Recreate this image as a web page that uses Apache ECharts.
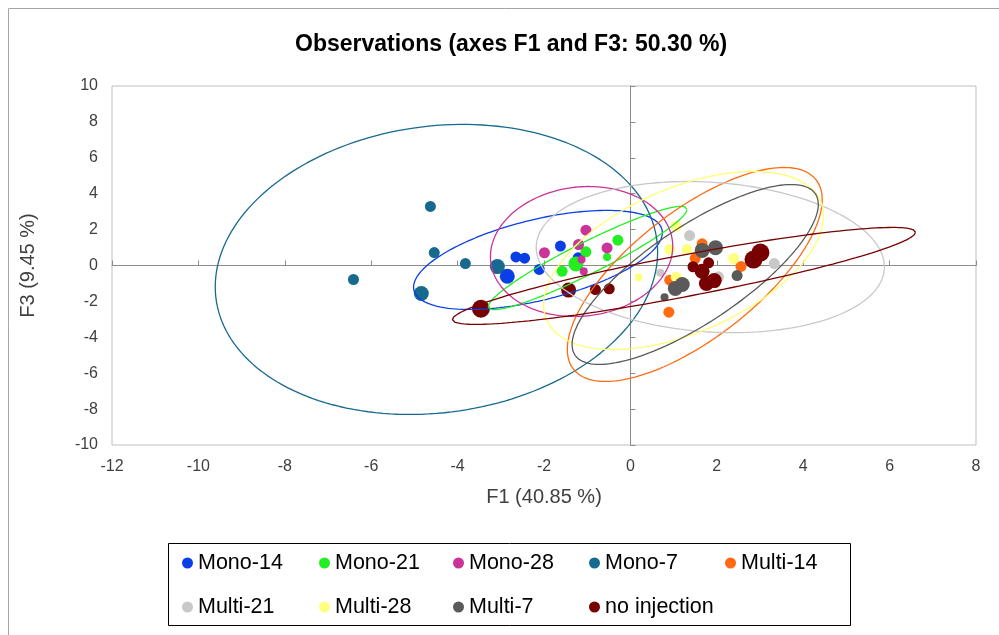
<!DOCTYPE html>
<html><head><meta charset="utf-8">
<script src="https://cdn.jsdelivr.net/npm/echarts@6.0.0/dist/echarts.min.js"></script>
<style>html,body{margin:0;padding:0;background:#fff}#c{width:999px;height:635px}</style>
</head><body><div id="c"></div>
<script>
// group names (legend order)
const groupNames = ['Mono-14','Mono-21','Mono-28','Mono-7','Multi-14','Multi-21','Multi-28','Multi-7','no injection'];
// observations: [F1, F3, quality(1..4)]
const mono14 = [[-2.85,-0.60,3],[-2.65,0.48,2],[-2.45,0.41,2],[-2.11,-0.22,2],[-1.62,1.08,2],[-1.21,0.43,2]];
const mono21 = [[-1.03,0.76,2],[-1.26,0.09,3],[-1.58,-0.32,2],[-0.29,1.41,2],[-0.54,0.48,1]];
const mono28 = [[-1.03,1.97,2],[-1.20,1.17,2],[-1.99,0.71,2],[-0.54,0.98,2],[-1.13,0.33,1],[-1.08,-0.32,1]];
const mono7 = [[-4.63,3.29,2],[-4.54,0.72,2],[-6.41,-0.78,2],[-3.82,0.11,2],[-3.08,-0.06,3],[-4.84,-1.56,3]];
const multi14 = [[1.66,1.21,2],[1.50,0.40,2],[2.56,-0.05,2],[0.91,-0.82,2],[0.89,-2.60,2]];
const multi21 = [[1.37,1.67,2],[3.33,0.11,2],[0.69,-0.41,1],[2.04,-0.63,2]];
const multi28 = [[1.06,2.19,2],[0.91,0.89,2],[1.31,0.89,2],[2.39,0.39,2],[0.19,-0.65,1],[1.06,-0.65,2]];
const multi7 = [[1.66,0.84,3],[1.97,0.99,3],[2.47,-0.56,2],[1.04,-1.28,3],[1.20,-1.06,3],[0.79,-1.77,1]];
const noInjection = [[-3.46,-2.41,4],[-1.43,-1.37,3],[-0.81,-1.34,2],[-0.49,-1.30,2],[1.45,-0.07,2],[1.66,-0.32,3],[1.81,0.15,2],[1.76,-1.00,3],[1.94,-0.84,3],[2.85,0.33,4],[3.01,0.72,4]];
// confidence ellipses (same order as groupNames): centre, half extents, tilt (sin of phase)
const ellipseCx = [-2.14,-0.99,-1.13,-4.49,1.49,1.85,1.23,1.50,1.24];
const ellipseCy = [0.31,0.42,0.78,-0.22,-0.50,0.47,0.28,-0.50,-0.58];
const ellipseRx = [2.88,2.30,2.11,5.12,2.95,4.03,3.24,2.85,5.36];
const ellipseRy = [2.76,2.88,3.62,8.08,5.96,4.21,4.96,5.01,2.70];
const ellipseTilt = [0.55,0.94,0.08,0.12,0.70,-0.13,0.50,0.78,0.90];
// axis ticks
const xTicks = {min:-12, max:8, step:2};
const yTicks = {min:-10, max:10, step:2};

const groupData = [mono14,mono21,mono28,mono7,multi14,multi21,multi28,multi7,noInjection];
const colors = ['#0b3fe6','#22ee22','#cc3399','#16698f','#ff6a13','#c8c8c8','#ffff80','#5a5a5a','#780000'];
const sizeOf = q => [0,8,11,15,18][q];

function ellipsePts(i){
  const pts=[]; const d=Math.asin(ellipseTilt[i]); const N=180;
  for(let k=0;k<=N;k++){const t=2*Math.PI*k/N;
    pts.push([ellipseCx[i]+ellipseRx[i]*Math.cos(t), ellipseCy[i]+ellipseRy[i]*Math.sin(t+d)]);}
  return pts;
}

const series=[];
groupNames.forEach((n,i)=>{
  series.push({type:'scatter',name:n,data:groupData[i],xAxisIndex:0,yAxisIndex:0,
    symbolSize:v=>sizeOf(v[2]),itemStyle:{color:colors[i],opacity:1},z:3});
});
groupNames.forEach((n,i)=>{
  series.push({type:'line',name:n+' ellipse',data:ellipsePts(i),xAxisIndex:0,yAxisIndex:0,
    showSymbol:false,symbol:'none',smooth:false,silent:true,
    lineStyle:{color:colors[i]==='#ffff80'?'#ffff70':colors[i],width:1.3},z:4});
});

// legend layout: one legend per entry, 5 columns on the first row, 4 on the second
const legendLeft = [182,319,453,589,725,182,319,453,589];
const legendTop = [549,549,549,549,549,593,593,593,593];
const legends = groupNames.map((n,i)=>({data:[n],left:legendLeft[i],top:legendTop[i],padding:0,
    icon:'circle',itemWidth:11,itemHeight:11,
    textStyle:{fontFamily:'Liberation Sans',fontSize:21.5,color:'#000',lineHeight:28}}));

const labelFont = {fontFamily:'Liberation Sans',fontSize:16,color:'#404040'};
const chart = echarts.init(document.getElementById('c'),null,{renderer:'canvas'});
chart.setOption({
  animation:false,
  backgroundColor:'#fff',
  title:{text:'Observations (axes F1 and F3: 50.30 %)',left:290,top:28,
    textStyle:{fontFamily:'Liberation Sans',fontWeight:'bold',fontSize:23,color:'#000'}},
  grid:{left:112,top:86,width:864,height:359,show:true,borderColor:'#bfbfbf',borderWidth:1},
  legend:legends,
  graphic:[
    {type:'rect',shape:{x:168.5,y:543.5,width:682,height:82},style:{fill:'none',stroke:'#000',lineWidth:1},silent:true},
    {type:'polyline',shape:{points:[[8.5,640],[8.5,8.5],[1005,8.5]]},style:{fill:'none',stroke:'#a6a6a6',lineWidth:1},silent:true}
  ],
  xAxis:[
    {type:'value',min:xTicks.min,max:xTicks.max,interval:xTicks.step,position:'bottom',
     name:'F1 (40.85 %)',nameLocation:'middle',nameGap:42,
     nameTextStyle:{fontFamily:'Liberation Sans',fontSize:20,color:'#404040'},
     axisLine:{show:false,onZero:false},axisTick:{show:false},splitLine:{show:false},
     axisLabel:Object.assign({margin:14},labelFont)},
    {type:'value',min:xTicks.min,max:xTicks.max,interval:xTicks.step,position:'top',
     axisLine:{show:true,onZero:true,onZeroAxisIndex:0,lineStyle:{color:'#8c8c8c',width:1}},
     axisTick:{show:true,inside:false,length:5,lineStyle:{color:'#8c8c8c'}},
     axisLabel:{show:false},splitLine:{show:false}}
  ],
  yAxis:[
    {type:'value',min:yTicks.min,max:yTicks.max,interval:yTicks.step,position:'left',
     name:'F3 (9.45 %)',nameLocation:'middle',nameGap:74,nameRotate:90,
     nameTextStyle:{fontFamily:'Liberation Sans',fontSize:20,color:'#404040'},
     axisLine:{show:false,onZero:false},axisTick:{show:false},splitLine:{show:false},
     axisLabel:Object.assign({margin:14},labelFont)},
    {type:'value',min:yTicks.min,max:yTicks.max,interval:yTicks.step,position:'right',
     axisLine:{show:true,onZero:true,onZeroAxisIndex:0,lineStyle:{color:'#8c8c8c',width:1}},
     axisTick:{show:true,inside:false,length:5,lineStyle:{color:'#8c8c8c'}},
     axisLabel:{show:false},splitLine:{show:false}}
  ],
  series:series
});
</script>
</body></html>
